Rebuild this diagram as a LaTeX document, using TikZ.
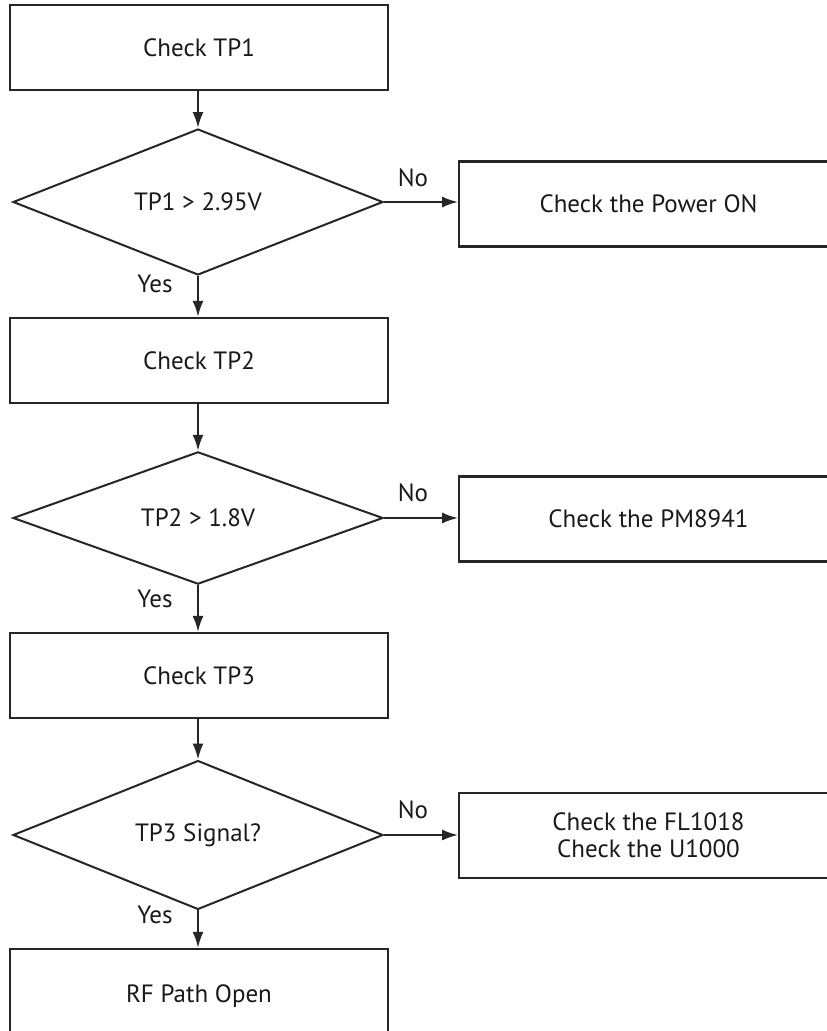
\documentclass[tikz,border=0pt]{standalone}
\usepackage{fontspec}
\setmainfont{PT Sans}
\usetikzlibrary{shapes.geometric,arrows.meta}
\begin{document}
\begin{tikzpicture}[x=1pt,y=-1pt,
  every node/.style={font=\fontsize{25}{29}\selectfont, text=black!90},
  box/.style={draw=black!85, line width=2.2pt, rectangle, minimum width=378.5pt, minimum height=85pt, inner sep=0pt, align=center},
  dec/.style={draw=black!85, line width=2pt, diamond, minimum width=370pt, minimum height=132pt, inner sep=0pt},
  conn/.style={draw=black!85, line width=2.2pt, -{Latex[length=16pt,width=11pt]}},
  lbl/.style={inner sep=0pt}]
\clip (0,0) rectangle (827,1031);
\fill[white] (0,0) rectangle (827,1031);
\node[box] (b1) at (199,47.5) {Check TP1};
\node[dec] (d1) at (198,202) {TP1 > 2.95V};
\node[box] (r1) at (648.5,204) {Check the Power ON};
\node[box] (b2) at (199,360.5) {Check TP2};
\node[dec] (d2) at (198,518) {TP2 > 1.8V};
\node[box] (r2) at (648.5,519) {Check the PM8941};
\node[box] (b3) at (199,675.5) {Check TP3};
\node[dec] (d3) at (198,835) {TP3 Signal?};
\node[box] (r3) at (648.5,835.5) {Check the FL1018\\[-2pt]Check the U1000};
\node[box, minimum height=95pt] (b4) at (199,996.5) {RF Path Open};
\draw[conn] (b1.south -| d1.north) -- (d1.north);
\draw[conn] (d1.south) -- (d1.south |- b2.north);
\draw[conn] (b2.south -| d2.north) -- (d2.north);
\draw[conn] (d2.south) -- (d2.south |- b3.north);
\draw[conn] (b3.south -| d3.north) -- (d3.north);
\draw[conn] (d3.south) -- (d3.south |- b4.north);
\draw[conn] (d1.east) -- (d1.east -| r1.west);
\draw[conn] (d2.east) -- (d2.east -| r2.west);
\draw[conn] (d3.east) -- (d3.east -| r3.west);
\node[lbl] (n1) at (413,178) {No};
\node[lbl] (n2) at (413,493) {No};
\node[lbl] (n3) at (413,810) {No};
\node[lbl] (y1) at (155,284) {Yes};
\node[lbl] (y2) at (155,599) {Yes};
\node[lbl] (y3) at (155,915) {Yes};
\end{tikzpicture}
\end{document}
